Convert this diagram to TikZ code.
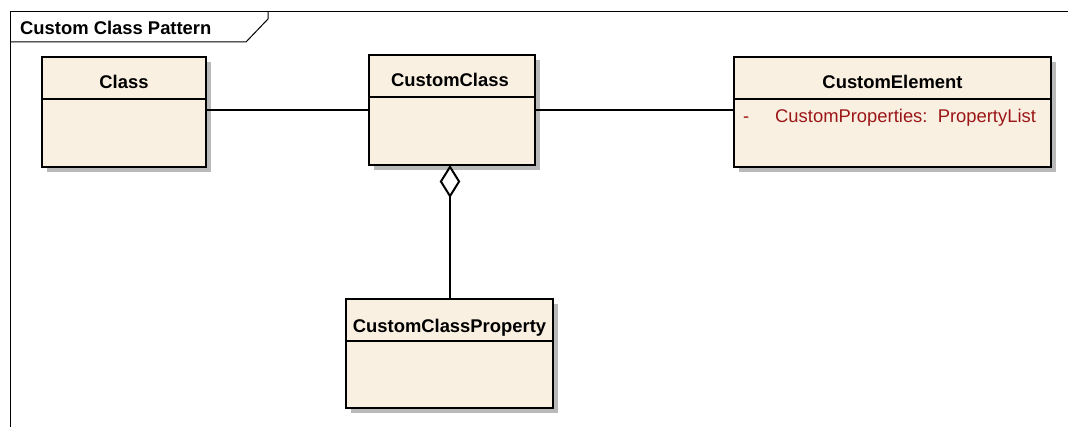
\documentclass[tikz,border=0pt]{standalone}
\usepackage{fontspec}
\setmainfont{Liberation Sans}
\usetikzlibrary{shapes.geometric,shadows}
\definecolor{boxfill}{RGB}{250,240,226}
\definecolor{attrred}{RGB}{155,22,22}
\definecolor{shadowgray}{RGB}{185,185,185}
\tikzset{
  umlbox/.style={rectangle, draw=black, line width=2.4pt, fill=boxfill, inner sep=0pt,
    drop shadow={shadow xshift=5pt, shadow yshift=-5pt, fill=shadowgray, opacity=1}},
  divider/.style={line width=2pt},
  conn/.style={line width=2pt},
  boxtitle/.style={font=\fontsize{18.4}{22}\selectfont\bfseries, inner sep=0pt, anchor=base},
  attr/.style={font=\fontsize{18.4}{22}\selectfont, text=attrred, inner sep=0pt, anchor=base west},
  framelabel/.style={font=\fontsize{18.4}{22}\selectfont\bfseries, inner sep=0pt, anchor=base west},
  aggdiamond/.style={diamond, draw=black, line width=2pt, fill=white, inner sep=0pt,
    minimum width=19pt, minimum height=30pt, anchor=north}
}
\begin{document}
\begin{tikzpicture}[x=1pt, y=-1pt]
  \useasboundingbox (0,0) rectangle (1068,427);

  % diagram frame with its name tab
  \draw[line width=1pt] (10,427) -- (10,12) -- (1068,12);
  \draw[line width=1pt] (10,42) -- (246,42) -- (268,19) -- (268,12);
  \node[framelabel] (frametitle) at (20,35) {Custom Class Pattern};

  % class boxes
  \node[umlbox, minimum width=164pt, minimum height=110pt] (class) at (124,112) {};
  \node[umlbox, minimum width=166pt, minimum height=110pt] (cc) at (452,110) {};
  \node[umlbox, minimum width=317pt, minimum height=110pt] (ce) at (892.5,112) {};
  \node[umlbox, minimum width=207pt, minimum height=109pt] (ccp) at (449.5,353.5) {};

  % compartment dividers
  \draw[divider] (class.west |- 0,99) -- (class.east |- 0,99);
  \draw[divider] (cc.west |- 0,97.5) -- (cc.east |- 0,97.5);
  \draw[divider] (ce.west |- 0,99) -- (ce.east |- 0,99);
  \draw[divider] (ccp.west |- 0,341.5) -- (ccp.east |- 0,341.5);

  % class names
  \node[boxtitle] (classname) at (124,89) {Class};
  \node[boxtitle] (ccname) at (450,86.5) {CustomClass};
  \node[boxtitle] (cename) at (892.5,89) {CustomElement};
  \node[boxtitle] (ccpname) at (449.5,332.5) {CustomClassProperty};

  % attribute of CustomElement
  \node[attr] (vis) at (743,123) {-};
  \node[attr] (prop) at (775,123) {CustomProperties:\ \ PropertyList};

  % associations
  \draw[conn] (cc.west -| class.east) -- (cc.west);
  \draw[conn] (cc.east) -- (cc.east -| ce.west);

  % aggregation
  \node[aggdiamond] (agg) at (450,165.5) {};
  \draw[conn] (agg.south) -- (agg.south |- ccp.north);
\end{tikzpicture}
\end{document}
